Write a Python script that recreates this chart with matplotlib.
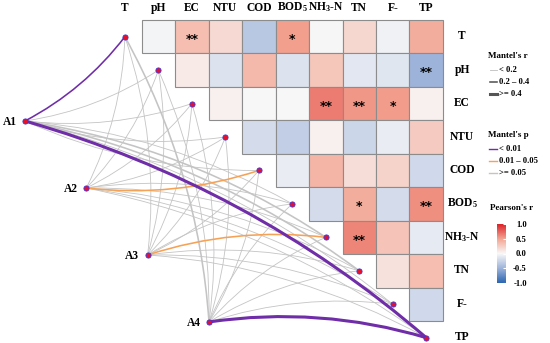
import numpy as np
import matplotlib
matplotlib.use('Agg')
import matplotlib.pyplot as plt
from matplotlib.patches import Rectangle, FancyArrowPatch
from matplotlib.colors import LinearSegmentedColormap, Normalize
from matplotlib.lines import Line2D
from matplotlib.cm import ScalarMappable

plt.rcParams['font.family'] = ['Liberation Serif', 'DejaVu Serif']
plt.rcParams['font.weight'] = 'bold'
plt.rcParams['mathtext.fontset'] = 'custom'
plt.rcParams['mathtext.rm'] = 'Liberation Serif:bold'
plt.rcParams['mathtext.it'] = 'Liberation Serif:bold:italic'
plt.rcParams['mathtext.bf'] = 'Liberation Serif:bold'

# ---------------- data ----------------
variables = ['T', 'pH', 'EC', 'NTU', 'COD', 'BOD5', 'NH3-N', 'TN', 'F-', 'TP']
var_labels = ['T', 'pH', 'EC', 'NTU', 'COD', r'BOD$_5$', r'NH$_3$-N', 'TN', 'F-', 'TP']
envs = ['A1', 'A2', 'A3', 'A4']

# Pearson's r, upper triangle (row i, columns i+1 .. 9)
pearson_rows = [
    [-0.03, 0.35, 0.18, -0.35, 0.52, -0.01, 0.20, -0.05, 0.45],
    [0.08, -0.15, 0.38, -0.15, 0.30, -0.12, -0.13, -0.50],
    [0.05, 0.00, 0.00, 0.65, 0.55, 0.53, 0.05],
    [-0.20, -0.30, 0.05, -0.25, -0.08, 0.27],
    [-0.08, 0.40, 0.16, 0.22, -0.22],
    [-0.20, 0.45, -0.20, 0.58],
    [0.62, 0.32, -0.10],
    [0.14, 0.35],
    [-0.22],
]
pearson_sig = [
    ['', '**', '', '', '*', '', '', '', ''],
    ['', '', '', '', '', '', '', '**'],
    ['', '', '', '**', '**', '*', ''],
    ['', '', '', '', '', ''],
    ['', '', '', '', ''],
    ['', '*', '', '**'],
    ['**', '', ''],
    ['', ''],
    [''],
]

# Mantel's r and p : rows = A1..A4, columns = variables
mantel_r = [
    [0.30, 0.10, 0.08, 0.12, 0.06, 0.15, 0.22, 0.21, 0.12, 0.45],
    [0.05, 0.08, 0.10, 0.06, 0.22, 0.10, 0.12, 0.15, 0.09, 0.10],
    [0.06, 0.10, 0.07, 0.05, 0.12, 0.10, 0.24, 0.10, 0.08, 0.12],
    [0.22, 0.08, 0.10, 0.07, 0.06, 0.12, 0.10, 0.09, 0.11, 0.42],
]
mantel_p = [
    [0.004, 0.40, 0.55, 0.30, 0.70, 0.20, 0.09, 0.10, 0.35, 0.001],
    [0.80, 0.50, 0.40, 0.70, 0.030, 0.45, 0.30, 0.20, 0.50, 0.40],
    [0.75, 0.40, 0.60, 0.80, 0.30, 0.45, 0.020, 0.40, 0.55, 0.30],
    [0.08, 0.50, 0.40, 0.65, 0.75, 0.30, 0.45, 0.50, 0.35, 0.002],
]

# ---------------- style ----------------
cmap = LinearSegmentedColormap.from_list('pr', [
    (0.00, '#2B65B1'), (0.25, '#9DB3DA'), (0.50, '#F8F8F8'),
    (0.75, '#F3A592'), (1.00, '#DC2229')])
norm = Normalize(-1, 1)
PURPLE, ORANGE, GREY = '#6F2DA8', '#F6A256', '#C4C4C4'

def p_color(p):
    return PURPLE if p < 0.01 else (ORANGE if p < 0.05 else GREY)

def r_width(r):
    return 0.6 if r < 0.2 else (1.15 if r < 0.4 else 2.2)

W, H = 550, 343
fig = plt.figure(figsize=(5.5, 3.43), dpi=100)
ax = fig.add_axes([0, 0, 1, 1])
x0, cw = 124.9, 33.48
y0, chh = 36.7, 33.44
ax.set_xlim((0 - x0) / cw, (W - x0) / cw)
ax.set_ylim((H - y0) / chh, (0 - y0) / chh)
ax.axis('off')

# heatmap cells
for i, row in enumerate(pearson_rows):
    for k, v in enumerate(row):
        j = i + 1 + k
        ax.add_patch(Rectangle((j - 0.5, i - 0.5), 1, 1, facecolor=cmap(norm(v)),
                               edgecolor='#8C8C8C', lw=0.8, zorder=1))
        s = pearson_sig[i][k]
        if s:
            ax.text(j, i + 0.19, s, ha='center', va='baseline', fontsize=9,
                    family='DejaVu Sans', fontweight='bold', color='black', zorder=2)

n = len(variables)
# labels
for j, lab in enumerate(var_labels):
    ax.text(j, -0.778, lab, ha='center', va='baseline', fontsize=8.3, fontweight='bold')
    ax.text(10.07, j + 0.08, lab, ha='center', va='baseline', fontsize=8.3, fontweight='bold')

# env node positions (layout)
env_x = [-2.984 + 1.832 * k for k in range(4)]
env_y = [2.521 + 2.003 * k for k in range(4)]

# links
links = []
for e in range(4):
    for t in range(n):
        links.append((e, t, mantel_r[e][t], mantel_p[e][t]))
links.sort(key=lambda l: (l[3] < 0.05, l[2]))
for e, t, r, p in links:
    rad = 0.11 if t <= 4 else -0.11
    col = p_color(p)
    zo = 3 if col != GREY else 2
    ax.add_patch(FancyArrowPatch((env_x[e], env_y[e]), (t, t),
                                 connectionstyle='arc3,rad=%.3f' % rad,
                                 arrowstyle='-', color=col, lw=r_width(r),
                                 shrinkA=0, shrinkB=0, zorder=zo))

ax.scatter(range(n), range(n), s=14, c='#E5112B', edgecolors='#3535E6',
           linewidths=0.6, zorder=5)
ax.scatter(env_x, env_y, s=14, c='#E5112B', edgecolors='#3535E6',
           linewidths=0.6, zorder=5)
for e, name in enumerate(envs):
    ax.text(env_x[e] - 0.25, env_y[e] + 0.03, name, ha='right', va='center',
            fontsize=8.3, fontweight='bold')

# ---------------- legends ----------------
def fx(x):
    return x / W

def fy(y):
    return 1 - y / H

fig.text(fx(488), fy(56), "Mantel's r", fontsize=6.5, fontweight='bold', va='center')
for yy, txt, lw, c in [(70, '< 0.2', 0.6, '#BEBEBE'), (82, '0.2 – 0.4', 1.15, '#555555'),
                       (93.5, '>= 0.4', 2.2, '#555555')]:
    fig.add_artist(Line2D([fx(490), fx(497)], [fy(yy), fy(yy)], color=c, lw=lw,
                          transform=fig.transFigure))
    fig.text(fx(499), fy(yy), txt, fontsize=6.2, fontweight='bold', va='center')

fig.text(fx(488), fy(135), "Mantel's p", fontsize=6.5, fontweight='bold', va='center')
for yy, txt, c in [(149, '< 0.01', PURPLE), (161, '0.01 – 0.05', ORANGE), (173, '>= 0.05', GREY)]:
    fig.add_artist(Line2D([fx(489), fx(497)], [fy(yy), fy(yy)], color=c, lw=1.0,
                          transform=fig.transFigure))
    fig.text(fx(499), fy(yy), txt, fontsize=6.2, fontweight='bold', va='center')

fig.text(fx(490), fy(208), "Pearson's r", fontsize=6.5, fontweight='bold', va='center')
cax = fig.add_axes([fx(497), fy(283), 9 / W, 59 / H])
cb = fig.colorbar(ScalarMappable(norm=norm, cmap=cmap), cax=cax,
                  ticks=[-1, -0.5, 0, 0.5, 1])
cb.outline.set_visible(False)
cb.ax.set_yticklabels(['-1.0', '-0.5', '0.0', '0.5', '1.0'])
cax.tick_params(length=2, color='white', direction='in', labelsize=6.2, pad=15)
for lbl in cax.get_yticklabels():
    lbl.set_ha('right')
    lbl.set_fontweight('bold')

fig.savefig('out.png', dpi=100)
